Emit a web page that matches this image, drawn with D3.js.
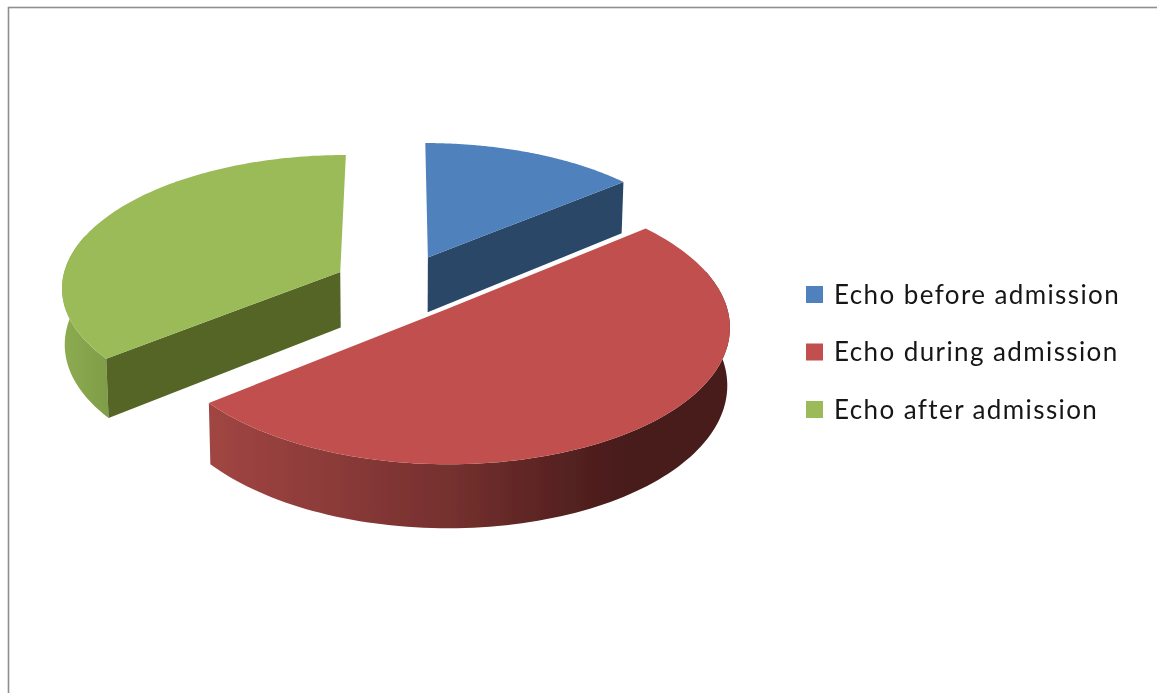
<!DOCTYPE html>
<html>
<head>
<meta charset="utf-8">
<script src="https://cdn.jsdelivr.net/npm/d3@7"></script>
<style>
html,body{margin:0;padding:0;background:#fff;overflow:hidden}
svg{display:block}
text{font-family:Lato,"Open Sans",sans-serif;fill:#161616}
</style>
</head>
<body>
<svg id="c" width="1157" height="693"></svg>
<script>
const categories = ["Echo before admission", "Echo during admission", "Echo after admission"];
const seriesValues = [14, 50.2, 35.8];
const topColors = ["#4F81BD", "#C0504D", "#9BBB59"];
const edgeColors = ["#2A4767", "#5A2524", "#546528"];
const wallIds = ["none", "wallRed", "wallGreen"];

const W = 1157, H = 693;
const svg = d3.select("#c");
const defs = svg.append("defs");
const f = defs.append("filter").attr("id", "soft").attr("x", "-5%").attr("y", "-5%").attr("width", "110%").attr("height", "110%");
f.append("feGaussianBlur").attr("stdDeviation", 0.75);

function grad(id, x1, x2, stops) {
  const g = defs.append("linearGradient").attr("id", id).attr("gradientUnits", "userSpaceOnUse")
    .attr("x1", x1).attr("x2", x2).attr("y1", 0).attr("y2", 0);
  stops.forEach(s => g.append("stop").attr("offset", s[0]).attr("stop-color", s[1]));
}
grad("wallRed", 212, 729, [[0, "#A04542"], [0.25, "#8A3A38"], [0.5, "#702E2C"], [0.7, "#532020"], [0.8, "#4A1D1C"], [1, "#4A1D1C"]]);
grad("wallGreen", 62, 110, [[0, "#8DAC50"], [1, "#7F9C48"]]);

// perspective projection of the tilted disc
const Cx = 400, Cy = 285.5, A = 279, B = 132, P = 0.105, E = 0.24, HT = 56;
function project(X, Z, down) {
  const k = 1 / (1 + P * Z);
  const shrink = down ? 0.992 : 1;
  return [Cx + A * X * k * shrink, Cy - B * Z * k + (down ? HT * k : 0)];
}

const pie = d3.pie().sort(null).value(d => d).startAngle(0).endAngle(2 * Math.PI);
const arcs = pie(seriesValues);
const line = d3.line().curve(d3.curveLinear);

const g = svg.append("g").attr("filter", "url(#soft)");

g.append("rect").attr("x", 8.5).attr("y", 7.5).attr("width", W + 20).attr("height", H + 20)
  .attr("fill", "#fff").attr("stroke", "#8f8f8f").attr("stroke-width", 1.6);

function sliceParts(d) {
  const mid = (d.startAngle + d.endAngle) / 2;
  const ox = E * Math.sin(mid), oz = E * Math.cos(mid);
  const angles = d3.range(0, 121).map(i => d.startAngle + (d.endAngle - d.startAngle) * i / 120);
  const rim = (a, down) => project(ox + Math.sin(a), oz + Math.cos(a), down);
  const centre = down => project(ox, oz, down);
  return {angles, rim, centre};
}

const order = [2, 0, 1];
order.forEach(i => {
  const d = arcs[i];
  const {angles, rim, centre} = sliceParts(d);
  const slice = g.append("g").attr("class", "slice");
  const wallFill = wallIds[i] === "none" ? edgeColors[i] : `url(#${wallIds[i]})`;
  // curved outer wall, only the part of the rim that faces the viewer
  const front = angles.filter(a => Math.cos(a) < 0.3);
  if (front.length > 1) {
    slice.append("path")
      .attr("d", line(front.map(a => rim(a, false)).concat(front.slice().reverse().map(a => rim(a, true)))) + "Z")
      .attr("fill", wallFill);
  }
  // radial walls, only when the cut faces the viewer
  if (Math.sin(d.startAngle) < -0.05) {
    slice.append("path")
      .attr("d", line([centre(false), rim(d.startAngle, false), rim(d.startAngle, true), centre(true)]) + "Z")
      .attr("fill", edgeColors[i]);
  }
  if (Math.sin(d.endAngle) > 0.05) {
    slice.append("path")
      .attr("d", line([centre(false), rim(d.endAngle, false), rim(d.endAngle, true), centre(true)]) + "Z")
      .attr("fill", edgeColors[i]);
  }
  // top face
  slice.append("path")
    .attr("d", line([centre(false)].concat(angles.map(a => rim(a, false)))) + "Z")
    .attr("fill", topColors[i]);
});

// legend
const legendY = d3.scalePoint().domain(categories).range([294.5, 409.5]);
const legend = g.append("g");
categories.forEach((c, i) => {
  const y = legendY(c);
  legend.append("rect").attr("x", 806).attr("y", y - 8.5).attr("width", 17).attr("height", 17).attr("fill", topColors[i]);
  legend.append("text").attr("x", 834).attr("y", y + 9).attr("font-size", 26).attr("letter-spacing", 1.4).text(c);
});
</script>
</body>
</html>
